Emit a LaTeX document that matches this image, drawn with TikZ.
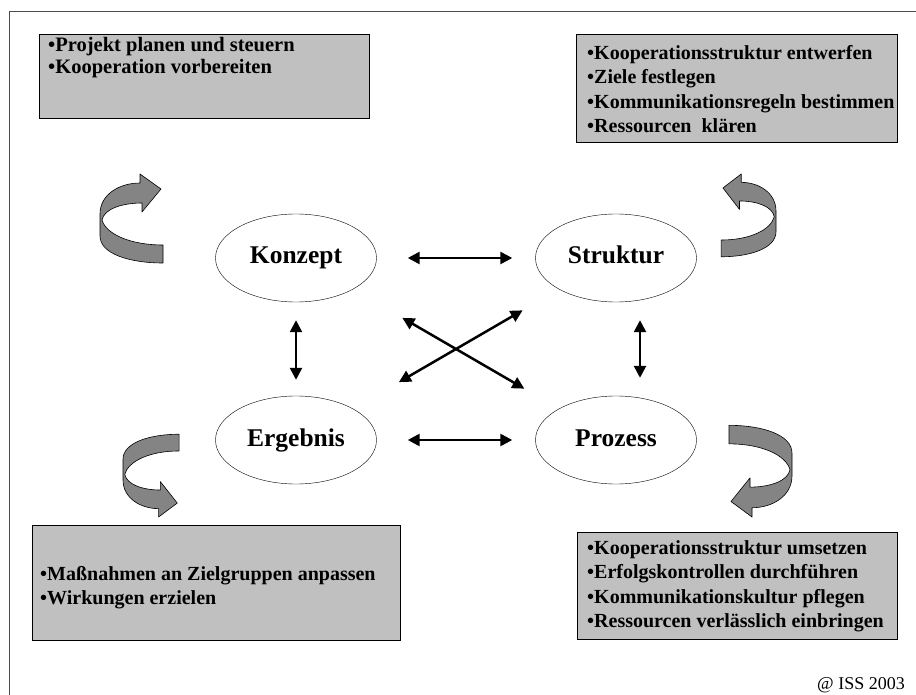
\documentclass[tikz,border=0pt]{standalone}
\usepackage{fontspec}
\setmainfont{Liberation Serif}
\usetikzlibrary{shapes.geometric, arrows.meta, positioning}
\definecolor{boxgray}{RGB}{192,192,192}
\definecolor{ribbongray}{RGB}{132,132,132}

\tikzset{
  pics/turnarrow/.style={code={
    \draw[ribbon] (63,89) .. controls (30,89) and (0,80) .. (0,62) -- (0,40)
      .. controls (0,20) and (20,9) .. (40,9) -- (40,0) -- (61,15) -- (42,38) -- (42,29)
      .. controls (22,29) and (4,35) .. (2,46)
      .. controls (6,60) and (30,71) .. (63,71) -- cycle;
  }}
}

\begin{document}
\begin{tikzpicture}[
    x=1pt, y=-1pt,
    task/.style={rectangle, draw, fill=boxgray, anchor=north west, inner sep=0pt},
    item/.style={align=left, anchor=north west, inner sep=0pt, font=\bfseries\fontsize{20}{24.5}\selectfont},
    phase/.style={ellipse, draw, minimum width=161pt, minimum height=88pt, text height=12pt, text depth=0pt, font=\bfseries\fontsize{25.5}{30}\selectfont},
    link/.style={<->, >={Triangle[length=12pt,width=12pt]}, line width=2.5pt},
    ribbon/.style={draw=black, fill=ribbongray, line width=0.6pt, line join=round}
]
    \useasboundingbox (0,0) rectangle (916,695);
    \clip (0,0) rectangle (916,695);

    % frame
    \draw[black!70, line width=1pt] (9,710) |- (930,12);

    % task boxes
    \node[task, minimum width=330pt, minimum height=84pt] (konzeptbox) at (39,34) {};
    \node[item, font=\bfseries\fontsize{20.5}{22.5}\selectfont] (konzepttext) at ([shift={(9,3)}]konzeptbox.north west) {%
        •Projekt planen und steuern\\
        •Kooperation vorbereiten};

    \node[task, minimum width=321pt, minimum height=108pt] (strukturbox) at (576,34) {};
    \node[item] (strukturtext) at ([shift={(11,11)}]strukturbox.north west) {%
        •Kooperationsstruktur entwerfen\\
        •Ziele festlegen\\
        •Kommunikationsregeln bestimmen\\
        •Ressourcen\ \ klären};

    \node[task, minimum width=368pt, minimum height=115pt] (ergebnisbox) at (32,525) {};
    \node[item] (ergebnistext) at ([shift={(8,41)}]ergebnisbox.north west) {%
        •Maßnahmen an Zielgruppen anpassen\\
        •Wirkungen erzielen};

    \node[task, minimum width=320pt, minimum height=107pt] (prozessbox) at (577,532) {};
    \node[item] (prozesstext) at ([shift={(10,8)}]prozessbox.north west) {%
        •Kooperationsstruktur umsetzen\\
        •Erfolgskontrollen durchführen\\
        •Kommunikationskultur pflegen\\
        •Ressourcen verlässlich einbringen};

    % phases
    \node[phase] (konzept) at (296,258) {Konzept};
    \node[phase] (struktur) at (616,258) {Struktur};
    \node[phase] (ergebnis) at (296,440) {Ergebnis};
    \node[phase] (prozess) at (616,440) {Prozess};

    % links between phases
    \draw[link, shorten <=31pt, shorten >=23pt] (konzept) -- (struktur);
    \draw[link, shorten <=31pt, shorten >=23pt] (ergebnis) -- (prozess);
    \draw[link, shorten <=18pt, shorten >=16pt] (konzept) -- (ergebnis);
    \draw[link, shorten <=18pt, shorten >=18pt] ([xshift=24pt]struktur.south) -- ([xshift=24pt]prozess.north);
    \draw[link, shorten <=57pt, shorten >=40pt] (konzept.south east) -- (prozess.north west);
    \draw[link, shorten <=53pt, shorten >=42pt] (ergebnis.north east) -- (struktur.south west);

    % turning arrows
    \pic at (100,174) {turnarrow};
    \pic[xscale=-0.87, yscale=0.93] at (776,174) {turnarrow};
    \pic[xscale=0.89, yscale=-0.93] at (123,517) {turnarrow};
    \pic[xscale=-1, yscale=-1.03] at (792,517) {turnarrow};

    \node[anchor=base east, inner sep=0pt, font=\fontsize{18}{20}\selectfont] (stamp) at (905,689) {@ ISS 2003};
\end{tikzpicture}
\end{document}
